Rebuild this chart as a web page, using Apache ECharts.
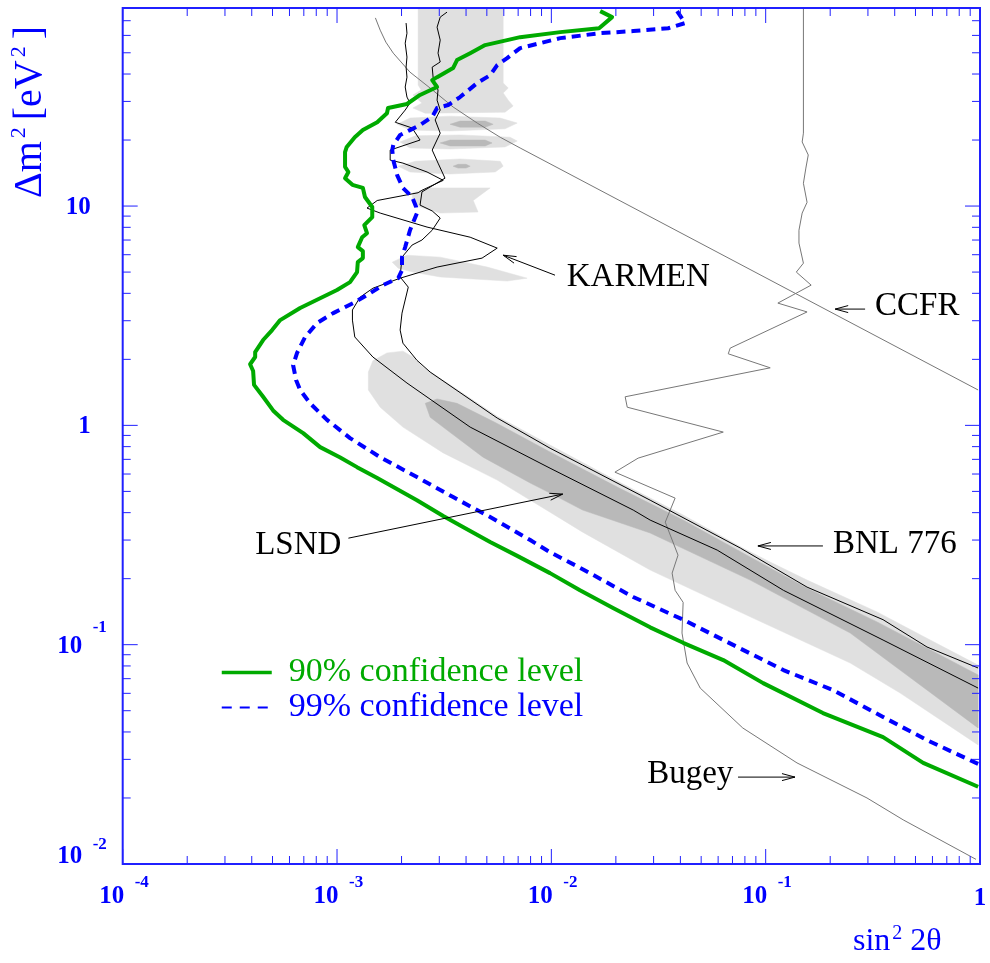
<!DOCTYPE html>
<html><head><meta charset="utf-8">
<script src="https://cdn.jsdelivr.net/npm/echarts@6/dist/echarts.min.js"></script>
<style>html,body{margin:0;padding:0;background:#fff}#c{width:990px;height:963px}</style>
</head><body><div id="c"></div>
<script>
// ---------------- data (sin^2 2theta, delta m^2 [eV^2]) ----------------
const xRange = [1e-4, 1];
const yRange = [0.01, 80];

const cl90 = [[0.0169,77.4],[0.0192,72.7],[0.0167,64.7],[0.0110,62.1],[0.00715,58.9],[0.00622,57.1],[0.00491,54.2],[0.00418,49.8],[0.00363,46.3],[0.00348,42.6],[0.00293,38.7],[0.00278,37.5],[0.00293,34.9],[0.00244,32.1],[0.00212,29.2],[0.00173,28.0],[0.00171,26.5],[0.00154,24.1],[0.00132,22.2],[0.00121,20.6],[0.00111,18.6],[0.00109,17.6],[0.00109,15.1],[0.00113,14.3],[0.00109,13.4],[0.00118,12.5],[0.00132,12.1],[0.00135,11.0],[0.00146,9.90],[0.00146,8.90],[0.00134,8.18],[0.00138,7.52],[0.00131,7.21],[0.00125,6.50],[0.00132,6.23],[0.00132,5.79],[0.00125,5.55],[0.00124,5.00],[0.00115,4.50],[0.00100,4.14],[8.34e-4,3.80],[6.73e-4,3.43],[5.43e-4,3.02],[4.98e-4,2.72],[4.52e-4,2.45],[4.15e-4,2.16],[4.15e-4,2.05],[3.93e-4,1.90],[4.06e-4,1.77],[4.10e-4,1.53],[4.52e-4,1.35],[5.03e-4,1.17],[5.60e-4,1.06],[6.95e-4,0.922],[8.34e-4,0.796],[1.03e-3,0.716],[1.24e-3,0.645],[1.54e-3,0.575],[2.36e-3,0.456],[3.13e-3,0.386],[3.87e-3,0.344],[5.18e-3,0.294],[6.93e-3,0.254],[9.86e-3,0.212],[0.0136,0.177],[0.0194,0.147],[0.0289,0.120],[0.0412,0.102],[0.0634,0.0851],[0.0973,0.0668],[0.185,0.0488],[0.353,0.0379],[0.543,0.0289],[0.98,0.0225]];

const cl99 = [[0.0386,77.4],[0.0421,68.3],[0.0351,64.7],[0.0241,62.8],[0.0169,61.4],[0.0110,58.3],[0.00715,52.5],[0.00622,47.3],[0.00559,43.9],[0.00518,39.5],[0.00451,36.4],[0.00375,31.4],[0.00330,28.9],[0.00293,28.0],[0.00278,25.5],[0.00244,23.4],[0.00219,22.2],[0.00197,21.1],[0.00183,19.0],[0.00181,18.0],[0.00183,16.2],[0.00191,13.8],[0.00203,12.1],[0.00224,11.0],[0.00234,9.90],[0.00236,9.29],[0.00219,7.76],[0.00208,6.50],[0.00201,5.85],[0.00201,5.10],[0.00193,4.69],[0.00164,4.36],[0.00143,4.01],[0.00119,3.61],[9.60e-4,3.25],[8.08e-4,2.93],[7.10e-4,2.53],[6.51e-4,2.14],[6.24e-4,1.88],[6.44e-4,1.61],[6.73e-4,1.45],[7.49e-4,1.26],[8.98e-4,1.06],[1.15e-3,0.875],[1.59e-3,0.716],[2.36e-3,0.581],[3.48e-3,0.471],[5.18e-3,0.382],[7.97e-3,0.300],[9.86e-3,0.264],[0.0140,0.221],[0.0241,0.165],[0.0412,0.130],[0.0737,0.0976],[0.121,0.0766],[0.206,0.0621],[0.353,0.0468],[0.566,0.0367],[0.98,0.0286]];

const karmen = [[0.00210,68.3],[0.00212,61.4],[0.00208,55.3],[0.00212,47.8],[0.00210,43.0],[0.00212,38.7],[0.00208,34.9],[0.00212,31.4],[0.00219,29.5],[0.00208,27.4],[0.00187,24.1],[0.00224,22.7],[0.00244,20.0],[0.00177,18.0],[0.00177,16.2],[0.00203,15.7],[0.00263,14.3],[0.00313,13.1],[0.00249,11.8],[0.00239,11.5],[0.00154,10.6],[0.00138,9.79],[0.00159,9.29],[0.00263,8.02],[0.00418,7.21],[0.00559,6.43],[0.00475,5.79],[0.00293,5.27],[0.00197,4.69],[0.00147,4.22],[0.00128,3.84],[0.00118,3.36],[0.00118,3.02],[0.00121,2.53],[0.00147,2.05],[0.00212,1.56],[0.00418,0.982],[0.00986,0.638],[0.0241,0.411],[0.0289,0.370],[0.0594,0.270],[0.121,0.177],[0.353,0.105],[0.98,0.0634]];

const bnl776 = [[0.00326,76.6],[0.00303,72.7],[0.00293,65.4],[0.00303,57.1],[0.00296,49.8],[0.00303,45.4],[0.00278,43.0],[0.00281,38.3],[0.00296,33.8],[0.00293,30.4],[0.00303,27.4],[0.00287,24.7],[0.00303,21.5],[0.00278,18.0],[0.00296,15.7],[0.00319,13.4],[0.00249,11.6],[0.00244,10.1],[0.00278,9.50],[0.00303,8.82],[0.00278,7.76],[0.00249,7.00],[0.00224,6.64],[0.00201,5.85],[0.00197,4.75],[0.00215,4.27],[0.00201,3.25],[0.00197,2.72],[0.00203,2.37],[0.00236,1.98],[0.00272,1.75],[0.00559,1.08],[0.00986,0.787],[0.0140,0.659],[0.0289,0.456],[0.0761,0.276],[0.156,0.183],[0.353,0.130],[0.566,0.0976],[0.98,0.0783]];

const ccfr = [[0.00151,72.1],[0.00159,63.4],[0.00169,55.9],[0.00183,49.8],[0.00219,40.8],[0.00272,34.5],[0.00348,28.3],[0.00451,23.9],[0.00577,20.6],[0.00715,18.4],[0.98,1.45]];

const bugey = [[0.150,80],[0.150,21.5],[0.148,19.6],[0.158,17.1],[0.154,14.9],[0.150,12.7],[0.156,10.4],[0.148,9.29],[0.143,7.76],[0.143,6.78],[0.150,5.49],[0.139,5.00],[0.163,4.36],[0.114,3.61],[0.156,3.29],[0.0683,2.25],[0.0669,2.12],[0.105,1.83],[0.0221,1.35],[0.0226,1.21],[0.0634,0.932],[0.0254,0.709],[0.0198,0.612],[0.0378,0.466],[0.0340,0.362],[0.0390,0.256],[0.0366,0.212],[0.0378,0.177],[0.0412,0.156],[0.0407,0.113],[0.0430,0.0825],[0.0495,0.0634],[0.0782,0.0417],[0.140,0.0289],[0.297,0.0200],[0.438,0.0159],[0.958,0.0105]];

// LSND allowed regions (outlines)
const lsndLight = [
  [[0.00140,1.75],[0.00147,1.97],[0.00171,2.14],[0.00203,2.18],[0.00226,2.05],[0.00252,1.84],[0.00337,1.53],[0.00559,1.10],[0.00986,0.813],[0.0203,0.557],[0.0412,0.390],[0.0782,0.276],[0.105,0.238],[0.156,0.197],[0.331,0.141],[0.586,0.105],[0.98,0.0807],
   [0.98,0.0349],[0.424,0.0602],[0.248,0.0825],[0.0847,0.134],[0.0289,0.219],[0.0140,0.326],[0.00986,0.402],[0.00559,0.563],[0.00313,0.749],[0.00203,0.982],[0.00159,1.21],[0.00140,1.45]],
  [[0.00239,80],[0.00596,80],[0.00596,36.4],[0.00629,34.5],[0.00596,32.8],[0.00629,30.4],[0.00663,28.6],[0.00608,26.8],[0.00258,26.5],[0.00226,28.0],[0.00249,29.5],[0.00226,32.1],[0.00247,33.8],[0.00239,35.6]],
  [[0.00191,23.6],[0.00219,25.2],[0.00337,25.7],[0.00577,25.2],[0.00693,23.9],[0.00608,22.5],[0.00337,22.0],[0.00219,22.2]],
  [[0.00197,19.6],[0.00232,20.9],[0.00375,21.1],[0.00642,20.6],[0.00693,19.8],[0.00608,18.6],[0.00337,18.2],[0.00219,18.4]],
  [[0.00193,15.2],[0.00232,16.0],[0.00375,16.4],[0.00577,16.0],[0.00596,15.2],[0.00547,14.3],[0.00337,14.0],[0.00219,14.3]],
  [[0.00226,11.5],[0.00272,12.1],[0.00518,12.1],[0.00432,10.6],[0.00455,9.39],[0.00303,9.29],[0.00244,9.90],[0.00224,10.6]],
  [[0.00181,5.55],[0.00212,5.97],[0.00303,5.85],[0.00502,5.27],[0.00771,4.69],[0.00622,4.55],[0.00303,4.75],[0.00226,5.00],[0.00193,5.21]]
];
const lsndDark = [
  [[0.00258,1.26],[0.00293,1.32],[0.00363,1.26],[0.00559,1.02],[0.00986,0.756],[0.0203,0.523],[0.0412,0.370],[0.0782,0.262],[0.156,0.181],[0.331,0.127],[0.98,0.0728],
   [0.98,0.0417],[0.248,0.113],[0.0847,0.197],[0.0289,0.323],[0.0140,0.411],[0.00986,0.491],[0.00797,0.546],[0.00480,0.716],[0.00326,0.952],[0.00272,1.09]],
  [[0.00337,23.6],[0.00375,24.4],[0.00491,24.4],[0.00535,23.6],[0.00491,22.9],[0.00375,22.9]],
  [[0.00303,19.4],[0.00337,20.0],[0.00491,20.0],[0.00529,19.4],[0.00491,18.8],[0.00337,18.8]],
  [[0.00348,15.2],[0.00367,15.5],[0.00400,15.5],[0.00418,15.2],[0.00400,14.9],[0.00367,14.9]]
];

// tick labels
const xMajorTicks = [1e-4, 1e-3, 1e-2, 1e-1, 1];
const xTickBases = ['10','10','10','10','1'];
const xTickExps = ['-4','-3','-2','-1',''];
const yMajorTicks = [0.01, 0.1, 1, 10];
const yTickBases = ['10','10','1','10'];
const yTickExps = ['-2','-1','',''];

// annotations
const annotLabels = ['KARMEN','CCFR','BNL 776','Bugey','LSND'];
const annotAt = [[0.0118,4.72],[0.324,3.50],[0.206,0.286],[0.0280,0.0256],[4.15e-4,0.285]];
const arrowFrom = [[0.0104,4.84],[0.291,3.39],[0.185,0.282],[0.0743,0.0249],[0.00113,0.306]];
const arrowTo = [[0.00596,5.97],[0.211,3.39],[0.092,0.282],[0.137,0.0249],[0.0113,0.486]];

// ---------------- helpers ----------------
function minorTicks(lo, hi){
  const out=[];
  for(let e=-5;e<=2;e++){ for(let m=2;m<=9;m++){ const v=m*Math.pow(10,e); if(v>lo*1.0001 && v<hi*0.9999) out.push(v);} }
  return out;
}
const xMinor = minorTicks(xRange[0], xRange[1]);
const yMinor = minorTicks(yRange[0], yRange[1]);

const BLUE = '#0000ff', FRAME = '#2020ff', GREEN = '#00aa00';
const SERIF = '"Liberation Serif","Times New Roman",serif';

function polySeries(name, polys, color, z){
  return {type:'custom', name, coordinateSystem:'cartesian2d', clip:true, silent:true, z,
    dimensions:['x','y','i'], encode:{x:0,y:1},
    data: polys.map((p,i)=>[p[0][0],p[0][1],i]),
    renderItem:(params, api)=>{
      const p = polys[api.value(2)];
      return {type:'polygon', shape:{points:p.map(q=>api.coord(q))}, style:{fill:color, stroke:color, lineWidth:0.5}};
    }};
}
function lineSeries(name, data, color, width, type, z){
  return {type:'line', name, data, symbol:'none', showSymbol:false, silent:true, z, clip:true,
    color, lineStyle:{color, width, type:type||'solid', join:'round', cap:'butt'}};
}

const chart = echarts.init(document.getElementById('c'), null, {renderer:'canvas'});
const option = {
  animation:false,
  backgroundColor:'#fff',
  grid:{left:122.7, right:10, top:8, bottom:99, show:false},
  xAxis:{type:'log', logBase:10, min:xRange[0], max:xRange[1], axisLine:{show:false}, axisTick:{show:false}, axisLabel:{show:false}, splitLine:{show:false}},
  yAxis:{type:'log', logBase:10, min:yRange[0], max:yRange[1], axisLine:{show:false}, axisTick:{show:false}, axisLabel:{show:false}, splitLine:{show:false}},
  legend:{left:215, top:650, orient:'vertical', itemWidth:50, itemHeight:2, itemGap:0, selectedMode:false,
    itemStyle:{color:'rgba(0,0,0,0)', borderColor:'rgba(0,0,0,0)', borderWidth:0, opacity:0},
    textStyle:{fontFamily:SERIF, fontSize:34, lineHeight:35, padding:[0,0,0,12]},
    data:[
      {name:'90% confidence level', textStyle:{color:GREEN}, lineStyle:{color:GREEN, width:3.5, type:'solid', opacity:1}},
      {name:'99% confidence level', textStyle:{color:BLUE}, lineStyle:{color:BLUE, width:2, type:[10,8], opacity:1}}
    ]},
  graphic:[
    {type:'text', x:29, y:112, rotation:Math.PI/2, z:100,
     style:{text:'{a|Δm}{s|2}{a|[eV}{s|2}{a|]}', align:'center', verticalAlign:'middle', fill:BLUE,
       rich:{a:{fontFamily:SERIF, fontSize:40, fill:BLUE, lineHeight:42, verticalAlign:'bottom'},
             s:{fontFamily:SERIF, fontSize:22, fill:BLUE, lineHeight:22, verticalAlign:'top', padding:[0,7,0,3]}}}},
    {type:'text', x:853, y:941, z:100,
     style:{text:'{a|sin}{s|2}{a| 2θ}', align:'left', verticalAlign:'middle', fill:BLUE,
       rich:{a:{fontFamily:SERIF, fontSize:32, fill:BLUE, lineHeight:34, verticalAlign:'bottom'},
             s:{fontFamily:SERIF, fontSize:20, fill:BLUE, lineHeight:20, verticalAlign:'top', padding:[0,0,0,2]}}}}
  ],
  series:[
    polySeries('lsndLight', lsndLight, '#e0e0e0', 1),
    polySeries('lsndDark', lsndDark, '#b9b9b9', 2),
    lineSeries('CCFR', ccfr, '#777777', 1, 'solid', 3),
    lineSeries('Bugey', bugey, '#777777', 1, 'solid', 3),
    lineSeries('KARMEN', karmen, '#000000', 1, 'solid', 4),
    lineSeries('BNL 776', bnl776, '#000000', 1, 'solid', 4),
    lineSeries('99% confidence level', cl99, BLUE, 4, [9,6], 5),
    lineSeries('90% confidence level', cl90, GREEN, 4, 'solid', 6),
    // annotations
    {type:'custom', name:'annotations', coordinateSystem:'cartesian2d', clip:false, silent:true, z:8,
     dimensions:['x','y','i'], encode:{x:0,y:1},
     data: annotAt.map((p,i)=>[p[0],p[1],i]),
     renderItem:(params, api)=>{
       const i = api.value(2);
       const t = api.coord(annotAt[i]);
       const f = api.coord(arrowFrom[i]), h = api.coord(arrowTo[i]);
       const dx=h[0]-f[0], dy=h[1]-f[1], L=Math.hypot(dx,dy), ux=dx/L, uy=dy/L, nx=-uy, ny=ux;
       const hl=13, hw=3.5;
       return {type:'group', children:[
         {type:'text', x:t[0], y:t[1], style:{text:annotLabels[i], fill:'#000', fontFamily:SERIF, fontSize:33, align:'left', verticalAlign:'middle'}},
         {type:'line', shape:{x1:f[0],y1:f[1],x2:h[0],y2:h[1]}, style:{stroke:'#000', lineWidth:1}},
         {type:'polyline', shape:{points:[[h[0]-hl*ux+hw*nx, h[1]-hl*uy+hw*ny],[h[0],h[1]],[h[0]-hl*ux-hw*nx, h[1]-hl*uy-hw*ny]]}, style:{stroke:'#000', lineWidth:1, fill:null}}
       ]};
     }},
    // frame
    {type:'custom', name:'frame', coordinateSystem:'cartesian2d', clip:false, silent:true, z:20,
     data:[[xRange[0], yRange[0]]],
     renderItem:(params, api)=>{
       const a = api.coord([xRange[0], yRange[1]]), b = api.coord([xRange[1], yRange[0]]);
       return {type:'rect', shape:{x:a[0], y:a[1], width:b[0]-a[0], height:b[1]-a[1]}, style:{fill:null, stroke:FRAME, lineWidth:2}};
     }},
    // x ticks (bottom & top)
    {type:'custom', name:'xticks', coordinateSystem:'cartesian2d', clip:false, silent:true, z:20,
     dimensions:['x','y','major'], encode:{x:0,y:1},
     data: xMajorTicks.map(v=>[v,yRange[0],1]).concat(xMinor.map(v=>[v,yRange[0],0])),
     renderItem:(params, api)=>{
       const v = api.value(0), len = api.value(2) ? 15 : 8;
       const b = api.coord([v, yRange[0]]), t = api.coord([v, yRange[1]]);
       const st = {stroke:FRAME, lineWidth:1};
       return {type:'group', children:[
         {type:'line', shape:{x1:b[0],y1:b[1],x2:b[0],y2:b[1]-len}, style:st},
         {type:'line', shape:{x1:t[0],y1:t[1],x2:t[0],y2:t[1]+len}, style:st}]};
     }},
    // y ticks (left & right)
    {type:'custom', name:'yticks', coordinateSystem:'cartesian2d', clip:false, silent:true, z:20,
     dimensions:['x','y','major'], encode:{x:0,y:1},
     data: yMajorTicks.map(v=>[xRange[0],v,1]).concat(yMinor.map(v=>[xRange[0],v,0])),
     renderItem:(params, api)=>{
       const v = api.value(1), len = api.value(2) ? 15 : 8;
       const l = api.coord([xRange[0], v]), r = api.coord([xRange[1], v]);
       const st = {stroke:FRAME, lineWidth:1};
       return {type:'group', children:[
         {type:'line', shape:{x1:l[0],y1:l[1],x2:l[0]+len,y2:l[1]}, style:st},
         {type:'line', shape:{x1:r[0],y1:r[1],x2:r[0]-len,y2:r[1]}, style:st}]};
     }},
    // x tick labels
    {type:'custom', name:'xlabels', coordinateSystem:'cartesian2d', clip:false, silent:true, z:20,
     dimensions:['x','y','i'], encode:{x:0,y:1},
     data: xMajorTicks.map((v,i)=>[v,yRange[0],i]),
     renderItem:(params, api)=>{
       const i = api.value(2), p = api.coord([xMajorTicks[i], yRange[0]]);
       const big = {fill:BLUE, fontFamily:SERIF, fontWeight:'bold', fontSize:25, verticalAlign:'middle'};
       if(!xTickExps[i]) return {type:'text', x:p[0], y:p[1]+35, style:Object.assign({text:xTickBases[i], align:'center'}, big)};
       return {type:'group', children:[
         {type:'text', x:p[0]+1.5, y:p[1]+33, style:Object.assign({text:xTickBases[i], align:'right'}, big)},
         {type:'text', x:p[0]+12, y:p[1]+18.5, style:{text:xTickExps[i], align:'left', verticalAlign:'middle', fill:BLUE, fontFamily:SERIF, fontWeight:'bold', fontSize:17}}]};
     }},
    // y tick labels
    {type:'custom', name:'ylabels', coordinateSystem:'cartesian2d', clip:false, silent:true, z:20,
     dimensions:['x','y','i'], encode:{x:0,y:1},
     data: yMajorTicks.map((v,i)=>[xRange[0],v,i]),
     renderItem:(params, api)=>{
       const i = api.value(2), p = api.coord([xRange[0], yMajorTicks[i]]);
       const big = {fill:BLUE, fontFamily:SERIF, fontWeight:'bold', fontSize:25, verticalAlign:'middle'};
       if(!yTickExps[i]) return {type:'text', x:p[0]-32, y:p[1]+1, style:Object.assign({text:yTickBases[i], align:'right'}, big)};
       const lift = (yMajorTicks[i] === yRange[0]) ? 9 : 0;
       return {type:'group', children:[
         {type:'text', x:p[0]-40.5, y:p[1]+2-lift, style:Object.assign({text:yTickBases[i], align:'right'}, big)},
         {type:'text', x:p[0]-30, y:p[1]-17.5-lift*0.2, style:{text:yTickExps[i], align:'left', verticalAlign:'middle', fill:BLUE, fontFamily:SERIF, fontWeight:'bold', fontSize:17}}]};
     }}
  ]
};
chart.setOption(option);
</script>
</body></html>
